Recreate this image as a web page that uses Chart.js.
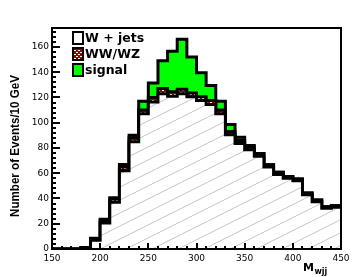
<!DOCTYPE html>
<html><head><meta charset="utf-8">
<script src="https://cdn.jsdelivr.net/npm/chart.js@4"></script>
<style>html,body{margin:0;padding:0;background:#fff}#wrap{width:360px;height:277px}</style>
</head><body><div id="wrap"><canvas id="c" width="360" height="277"></canvas></div>
<script>
// ---- data (bin lower edges, 10 GeV bins) ----
const binLow = [150,160,170,180,190,200,210,220,230,240,250,260,270,280,290,300,310,320,330,340,350,360,370,380,390,400,410,420,430,440];
const binUpper = 450;
const wjets  = [0,0,0,1,7,20.5,37,62,85,107,116.5,123,121,123,120.5,117.5,114.5,107,90.5,83.5,78.5,73.5,65,59,56,54,43,37.5,32.3,33];
const wwwz   = [0,0,0,0,1.2,2,2.5,3,3,3,3.5,4,3.5,3.5,3,3,3,3,2.5,2.5,2,2,1.8,1.7,1.5,1.5,1.3,1.3,1.2,1.2];
const signal = [0,0,0,0,0.3,1,1.1,2,2,7,11.5,22,32,39.5,28.5,19,12,7,5.5,2.5,1.5,0.2,0,0,0,0,0,0,0,0];
const seriesNames = ['W + jets','WW/WZ','signal'];
const xTickValues = [150,200,250,300,350,400,450];
const yTickValues = [0,20,40,60,80,100,120,140,160];
const xTitleMain = 'M', xTitleSub = 'wjj';
const yTitle = 'Number of Events/10 GeV';

function toPoints(vals){
  const pts = binLow.map((x,i)=>({x:x, y:vals[i]}));
  pts.push({x:binUpper, y:vals[vals.length-1]});
  return pts;
}
function hatchPattern(){
  const c=document.createElement('canvas'); c.width=26; c.height=13;
  const g=c.getContext('2d'); g.fillStyle='#fff'; g.fillRect(0,0,26,13);
  g.strokeStyle='#c4c4c4'; g.lineWidth=1;
  g.beginPath(); g.moveTo(-2,14); g.lineTo(28,-1); g.stroke();
  return g.createPattern(c,'repeat');
}
function redPattern(){
  const c=document.createElement('canvas'); c.width=4; c.height=4;
  const g=c.getContext('2d'); g.fillStyle='#a00000'; g.fillRect(0,0,4,4);
  g.fillStyle='#fff'; g.fillRect(0,0,2,1); g.fillRect(2,2,2,1);
  return g.createPattern(c,'repeat');
}
const hatch = hatchPattern(), red = redPattern();

const common = {stepped:true, borderColor:'#000', borderWidth:3, pointRadius:0, borderJoinStyle:'miter', borderCapStyle:'butt'};

const decor = {
  id:'decor',
  afterDraw(chart){
    const {ctx, chartArea:a, scales:{x,y}} = chart;
    ctx.save();
    ctx.strokeStyle='#000'; ctx.lineWidth=2;
    ctx.strokeRect(a.left, a.top, a.right-a.left, a.bottom-a.top);
    ctx.beginPath();
    for(let v=150; v<=450; v+=10){
      const px=Math.round(x.getPixelForValue(v)); const len=(v%50===0)?6:3;
      ctx.moveTo(px,a.bottom); ctx.lineTo(px,a.bottom-len);
    }
    for(let v=0; v<=172; v+=4){
      const py=Math.round(y.getPixelForValue(v)); const len=(v%20===0)?8:4;
      ctx.moveTo(a.left,py); ctx.lineTo(a.left+len,py);
    }
    ctx.stroke();
    // legend
    const ds = chart.data.datasets;
    ctx.font='bold 12.5px "DejaVu Sans", sans-serif';
    ctx.textBaseline='middle'; ctx.textAlign='left';
    ds.forEach((d,i)=>{
      const cy = 38 + i*16;
      ctx.fillStyle = i===0 ? '#fff' : d.backgroundColor;
      ctx.fillRect(73, cy-6, 10, 12);
      ctx.lineWidth=2; ctx.strokeStyle='#000';
      ctx.strokeRect(73, cy-6, 10, 12);
      ctx.fillStyle='#000';
      ctx.fillText(d.label, 85, cy+0.5);
    });
    // y title
    ctx.save();
    ctx.translate(15,146); ctx.rotate(-Math.PI/2);
    ctx.font='bold 13px "Liberation Sans", Arial, sans-serif';
    const w = ctx.measureText(yTitle).width;
    ctx.scale(142/w,1);
    ctx.textAlign='center'; ctx.textBaseline='middle';
    ctx.fillText(yTitle,0,0);
    ctx.restore();
    // x title
    ctx.textBaseline='alphabetic'; ctx.textAlign='left';
    ctx.font='bold 11px "DejaVu Sans", sans-serif';
    ctx.fillText(xTitleMain, 303, 271);
    const mw = ctx.measureText(xTitleMain).width;
    ctx.font='bold 8px "DejaVu Sans", sans-serif';
    ctx.fillText(xTitleSub, 303+mw+0.5, 274);
    ctx.restore();
  }
};

new Chart(document.getElementById('c'), {
  type:'line',
  data:{datasets:[
    Object.assign({label:seriesNames[0], data:toPoints(wjets), backgroundColor:hatch, fill:'origin'}, common),
    Object.assign({label:seriesNames[1], data:toPoints(wwwz), backgroundColor:red, fill:'-1'}, common),
    Object.assign({label:seriesNames[2], data:toPoints(signal), backgroundColor:'#00ff00', fill:'-1'}, common)
  ]},
  options:{
    responsive:false, animation:false, devicePixelRatio:1,
    layout:{padding:{left:0, top:28, right:19, bottom:0}},
    plugins:{legend:{display:false}, tooltip:{enabled:false}},
    scales:{
      x:{type:'linear', min:150, max:450,
         grid:{display:false, drawTicks:false}, border:{display:false},
         afterFit(s){ s.height=28; },
         afterBuildTicks(s){ s.ticks = xTickValues.map(v=>({value:v})); },
         ticks:{padding:4, color:'#000', font:{family:'"DejaVu Sans", sans-serif', size:9}, maxRotation:0, autoSkip:false}},
      y:{type:'linear', stacked:true, min:0, max:175,
         grid:{display:false, drawTicks:false}, border:{display:false},
         afterFit(s){ s.width=52; },
         afterBuildTicks(s){ s.ticks = yTickValues.map(v=>({value:v})); },
         ticks:{padding:3, color:'#000', font:{family:'"DejaVu Sans", sans-serif', size:9}}}
    }
  },
  plugins:[decor]
});
</script></body></html>
